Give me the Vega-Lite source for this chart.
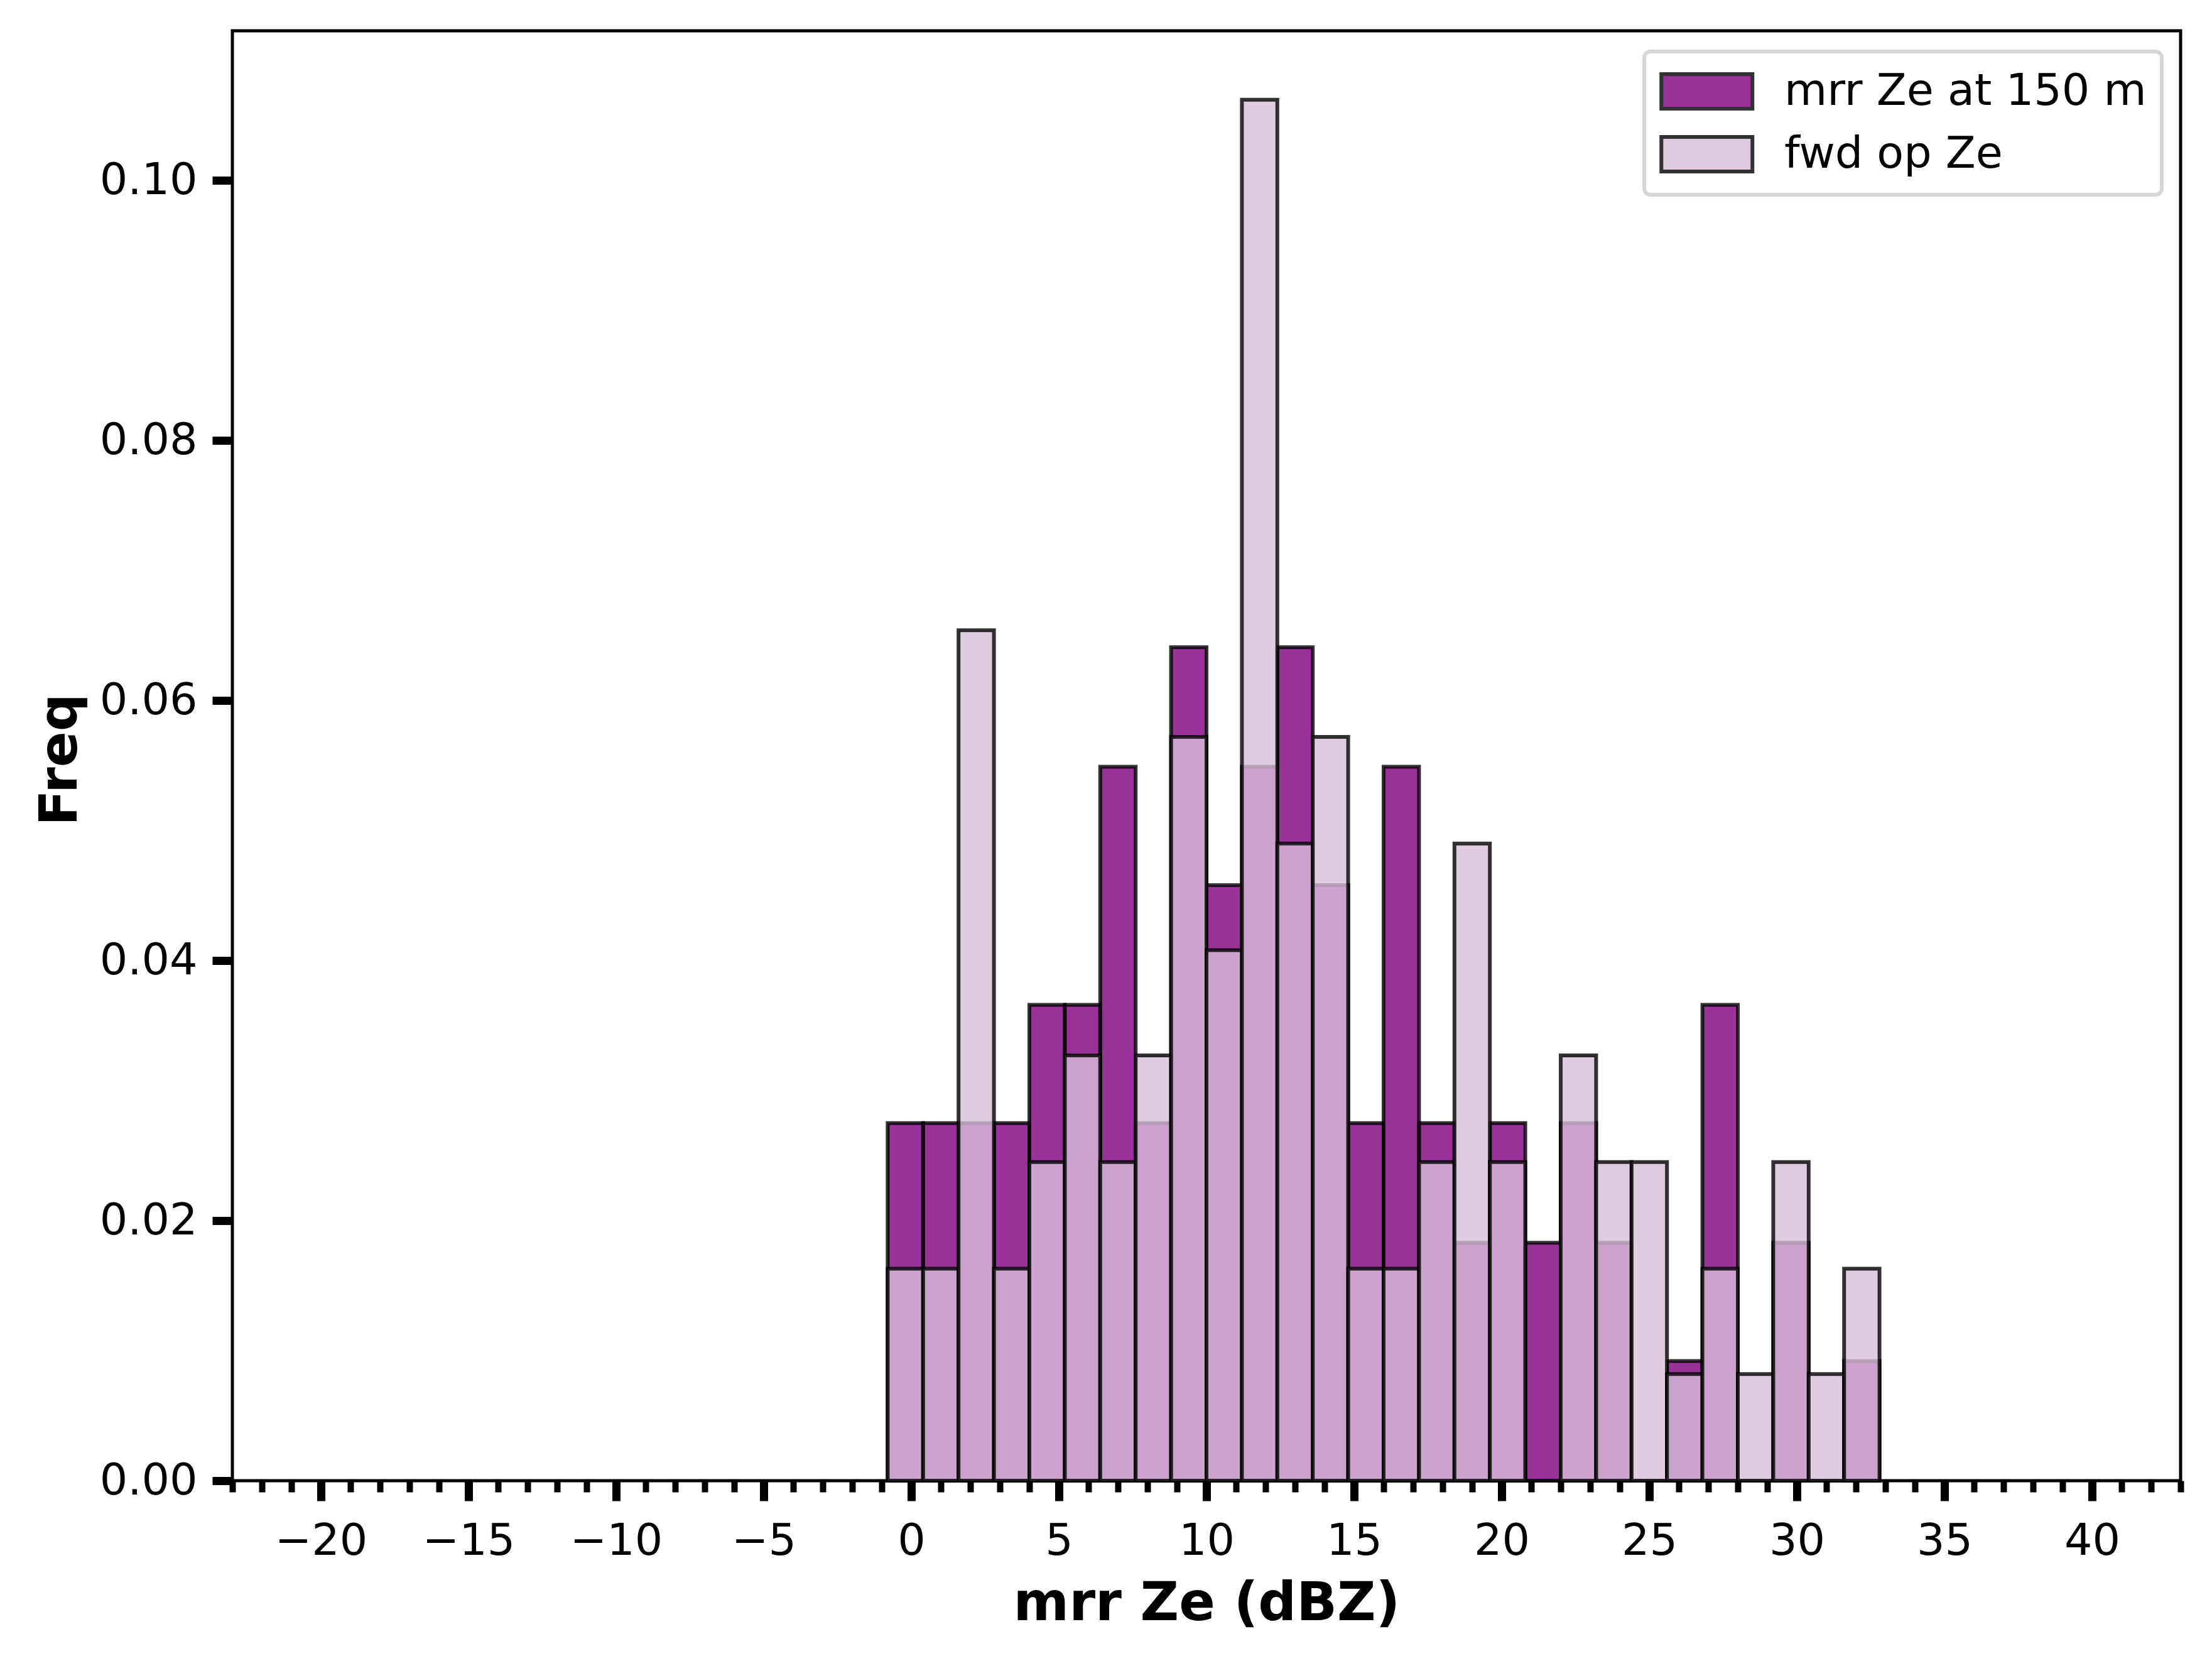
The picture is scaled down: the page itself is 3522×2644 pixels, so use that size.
{
  "$schema": "https://vega.github.io/schema/vega-lite/v6.json",
  "width": 3102,
  "height": 2308,
  "autosize": {"type": "none"},
  "padding": {"left": 370, "top": 49, "right": 50, "bottom": 287},
  "background": "white",
  "config": {
    "font": "DejaVu Sans",
    "view": {"stroke": "black", "strokeWidth": 5},
    "axis": {"domain": false, "grid": false, "tickColor": "black", "labelColor": "black", "titleColor": "black"},
    "legend": {"strokeWidth": 6}
  },
  "data": {
    "values": [
      {"series": "mrr Ze at 150 m", "lo": -0.8, "hi": 0.4, "freq": 0.0275},
      {"series": "mrr Ze at 150 m", "lo": 0.4, "hi": 1.6, "freq": 0.0275},
      {"series": "mrr Ze at 150 m", "lo": 1.6, "hi": 2.8, "freq": 0.0275},
      {"series": "mrr Ze at 150 m", "lo": 2.8, "hi": 4.0, "freq": 0.0275},
      {"series": "mrr Ze at 150 m", "lo": 4.0, "hi": 5.2, "freq": 0.0366},
      {"series": "mrr Ze at 150 m", "lo": 5.2, "hi": 6.4, "freq": 0.0366},
      {"series": "mrr Ze at 150 m", "lo": 6.4, "hi": 7.6, "freq": 0.0549},
      {"series": "mrr Ze at 150 m", "lo": 7.6, "hi": 8.8, "freq": 0.0275},
      {"series": "mrr Ze at 150 m", "lo": 8.8, "hi": 10.0, "freq": 0.0641},
      {"series": "mrr Ze at 150 m", "lo": 10.0, "hi": 11.2, "freq": 0.0458},
      {"series": "mrr Ze at 150 m", "lo": 11.2, "hi": 12.4, "freq": 0.0549},
      {"series": "mrr Ze at 150 m", "lo": 12.4, "hi": 13.6, "freq": 0.0641},
      {"series": "mrr Ze at 150 m", "lo": 13.6, "hi": 14.8, "freq": 0.0458},
      {"series": "mrr Ze at 150 m", "lo": 14.8, "hi": 16.0, "freq": 0.0275},
      {"series": "mrr Ze at 150 m", "lo": 16.0, "hi": 17.2, "freq": 0.0549},
      {"series": "mrr Ze at 150 m", "lo": 17.2, "hi": 18.4, "freq": 0.0275},
      {"series": "mrr Ze at 150 m", "lo": 18.4, "hi": 19.6, "freq": 0.0183},
      {"series": "mrr Ze at 150 m", "lo": 19.6, "hi": 20.8, "freq": 0.0275},
      {"series": "mrr Ze at 150 m", "lo": 20.8, "hi": 22.0, "freq": 0.0183},
      {"series": "mrr Ze at 150 m", "lo": 22.0, "hi": 23.2, "freq": 0.0275},
      {"series": "mrr Ze at 150 m", "lo": 23.2, "hi": 24.4, "freq": 0.0183},
      {"series": "mrr Ze at 150 m", "lo": 24.4, "hi": 25.6, "freq": 0},
      {"series": "mrr Ze at 150 m", "lo": 25.6, "hi": 26.8, "freq": 0.0092},
      {"series": "mrr Ze at 150 m", "lo": 26.8, "hi": 28.0, "freq": 0.0366},
      {"series": "mrr Ze at 150 m", "lo": 28.0, "hi": 29.2, "freq": 0},
      {"series": "mrr Ze at 150 m", "lo": 29.2, "hi": 30.4, "freq": 0.0183},
      {"series": "mrr Ze at 150 m", "lo": 30.4, "hi": 31.6, "freq": 0},
      {"series": "mrr Ze at 150 m", "lo": 31.6, "hi": 32.8, "freq": 0.0092},
      {"series": "fwd op Ze", "lo": -0.8, "hi": 0.4, "freq": 0.0163},
      {"series": "fwd op Ze", "lo": 0.4, "hi": 1.6, "freq": 0.0163},
      {"series": "fwd op Ze", "lo": 1.6, "hi": 2.8, "freq": 0.0654},
      {"series": "fwd op Ze", "lo": 2.8, "hi": 4.0, "freq": 0.0163},
      {"series": "fwd op Ze", "lo": 4.0, "hi": 5.2, "freq": 0.0245},
      {"series": "fwd op Ze", "lo": 5.2, "hi": 6.4, "freq": 0.0327},
      {"series": "fwd op Ze", "lo": 6.4, "hi": 7.6, "freq": 0.0245},
      {"series": "fwd op Ze", "lo": 7.6, "hi": 8.8, "freq": 0.0327},
      {"series": "fwd op Ze", "lo": 8.8, "hi": 10.0, "freq": 0.0572},
      {"series": "fwd op Ze", "lo": 10.0, "hi": 11.2, "freq": 0.0408},
      {"series": "fwd op Ze", "lo": 11.2, "hi": 12.4, "freq": 0.1062},
      {"series": "fwd op Ze", "lo": 12.4, "hi": 13.6, "freq": 0.049},
      {"series": "fwd op Ze", "lo": 13.6, "hi": 14.8, "freq": 0.0572},
      {"series": "fwd op Ze", "lo": 14.8, "hi": 16.0, "freq": 0.0163},
      {"series": "fwd op Ze", "lo": 16.0, "hi": 17.2, "freq": 0.0163},
      {"series": "fwd op Ze", "lo": 17.2, "hi": 18.4, "freq": 0.0245},
      {"series": "fwd op Ze", "lo": 18.4, "hi": 19.6, "freq": 0.049},
      {"series": "fwd op Ze", "lo": 19.6, "hi": 20.8, "freq": 0.0245},
      {"series": "fwd op Ze", "lo": 20.8, "hi": 22.0, "freq": 0},
      {"series": "fwd op Ze", "lo": 22.0, "hi": 23.2, "freq": 0.0327},
      {"series": "fwd op Ze", "lo": 23.2, "hi": 24.4, "freq": 0.0245},
      {"series": "fwd op Ze", "lo": 24.4, "hi": 25.6, "freq": 0.0245},
      {"series": "fwd op Ze", "lo": 25.6, "hi": 26.8, "freq": 0.0082},
      {"series": "fwd op Ze", "lo": 26.8, "hi": 28.0, "freq": 0.0163},
      {"series": "fwd op Ze", "lo": 28.0, "hi": 29.2, "freq": 0.0082},
      {"series": "fwd op Ze", "lo": 29.2, "hi": 30.4, "freq": 0.0245},
      {"series": "fwd op Ze", "lo": 30.4, "hi": 31.6, "freq": 0.0082},
      {"series": "fwd op Ze", "lo": 31.6, "hi": 32.8, "freq": 0.0163}
    ]
  },
  "encoding": {
    "x": {
      "field": "lo",
      "type": "quantitative",
      "title": "mrr Ze (dBZ)",
      "scale": {"domain": [-23, 43], "nice": false, "zero": false},
      "axis": {
        "values": [-23, -22, -21, -20, -19, -18, -17, -16, -15, -14, -13, -12, -11, -10, -9, -8, -7, -6, -5, -4, -3, -2, -1, 0, 1, 2, 3, 4, 5, 6, 7, 8, 9, 10, 11, 12, 13, 14, 15, 16, 17, 18, 19, 20, 21, 22, 23, 24, 25, 26, 27, 28, 29, 30, 31, 32, 33, 34, 35, 36, 37, 38, 39, 40, 41, 42, 43],
        "labelExpr": "datum.value % 5 === 0 ? datum.label : ''",
        "tickSize": {"condition": {"test": "datum.value % 5 === 0", "value": 32}, "value": 18},
        "tickWidth": {"condition": {"test": "datum.value % 5 === 0", "value": 13}, "value": 10},
        "labelFontSize": 70,
        "labelPadding": 30,
        "labelFlush": false,
        "labelOverlap": false,
        "titleFontSize": 85,
        "titleFontWeight": "bold",
        "titleBaseline": "alphabetic",
        "titleY": 221
      }
    },
    "x2": {"field": "hi"},
    "y": {
      "field": "freq",
      "type": "quantitative",
      "title": "Freq",
      "scale": {"domain": [0, 0.1115], "nice": false},
      "axis": {
        "values": [0, 0.02, 0.04, 0.06, 0.08, 0.1],
        "format": ".2f",
        "tickSize": 32,
        "tickWidth": 13,
        "labelFontSize": 70,
        "labelPadding": 24,
        "labelFlush": false,
        "titleFontSize": 84,
        "titleFontWeight": "bold",
        "titleAngle": 270,
        "titleBaseline": "alphabetic",
        "titleAlign": "center",
        "titleX": -249,
        "titleY": 1160
      }
    },
    "y2": {"datum": 0},
    "color": {
      "field": "series",
      "type": "nominal",
      "scale": {"domain": ["mrr Ze at 150 m", "fwd op Ze"], "range": ["#800080", "#d8bfd8"]},
      "legend": {
        "title": null,
        "orient": "none",
        "legendX": 2248,
        "legendY": 33,
        "symbolType": "M-1,-0.76H3V0.76H-1Z",
        "symbolSize": 5256,
        "symbolStrokeColor": "black",
        "symbolStrokeWidth": 6,
        "symbolOpacity": 0.8,
        "labelFontSize": 70,
        "labelColor": "black",
        "labelLimit": 2000,
        "labelOffset": 120,
        "rowPadding": 19,
        "padding": 24,
        "fillColor": "white",
        "strokeColor": "#d6d6d6",
        "cornerRadius": 10
      }
    }
  },
  "layer": [
    {
      "transform": [{"filter": "datum.series === 'mrr Ze at 150 m' && datum.freq > 0"}],
      "mark": {"type": "bar", "fillOpacity": 0.8, "stroke": "black", "strokeOpacity": 0.8, "strokeWidth": 6}
    },
    {
      "transform": [{"filter": "datum.series === 'fwd op Ze' && datum.freq > 0"}],
      "mark": {"type": "bar", "fillOpacity": 0.8, "stroke": "black", "strokeOpacity": 0.8, "strokeWidth": 6}
    }
  ]
}
